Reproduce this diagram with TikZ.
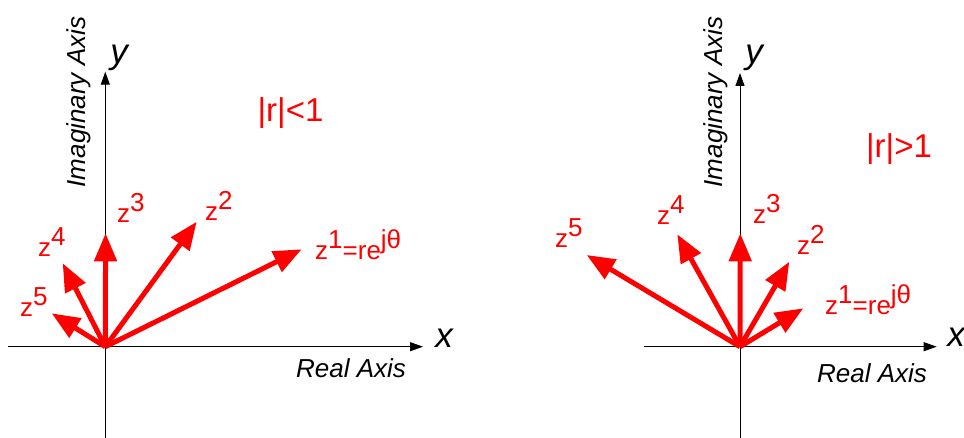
\documentclass[tikz,border=0pt]{standalone}
\usepackage{fontspec}
\setmainfont{Liberation Sans}
\usetikzlibrary{arrows.meta}
\newcommand\zsup[1]{\raisebox{0.45em}{#1}}
\begin{document}
\begin{tikzpicture}[x=1pt,y=-1pt,
  axis/.style={line width=1pt, -{Triangle[length=13pt,width=9pt]}},
  vec/.style={red, line width=5pt, -{Triangle[length=28pt,width=22pt]}},
  zlab/.style={red, font=\fontsize{26}{30}\selectfont, inner sep=0, anchor=base west},
  axlab/.style={font=\fontsize{26}{30}\selectfont\itshape, inner sep=0},
  xylab/.style={font=\fontsize{35}{40}\selectfont\itshape, inner sep=0},
  rlab/.style={red, font=\fontsize{33}{38}\selectfont, inner sep=0}]
\useasboundingbox (0,0) rectangle (964,438);
\fill[white] (0,0) rectangle (964,438);

% ---------- left panel ----------
\coordinate (O1) at (105.3,346.7);
\coordinate (xs1) at (8,346.7);
\coordinate (xe1) at (423,346.7);
\coordinate (ys1) at (105.3,438);
\coordinate (ye1) at (105.3,71.7);
\draw[axis] (xs1) -- (xe1);
\draw[axis] (ys1) -- (ye1);
\node[xylab] (xl1) at (444,338) {x};
\node[xylab] (yl1) at (119,58) {y};
\node[axlab, rotate=90] (im1) at (79,102) {Imaginary Axis};
\node[axlab] (re1) at (351,368) {Real Axis};
\node[rlab] (r1) at (290.5,113.5) {|r|<1};

\coordinate (a1) at (301.7,249.3);
\coordinate (a2) at (196.7,221.7);
\coordinate (a3) at (105.6,233.3);
\coordinate (a4) at (62.7,263.3);
\coordinate (a5) at (51.7,313.3);
\foreach \t in {a1,a2,a3,a4,a5} \draw[vec] (O1) -- (\t);

\node[zlab] (za1) at (315,260) {z\zsup{1}=re\zsup{jθ}};
\node[zlab] (za2) at (205,221) {z\zsup{2}};
\node[zlab] (za3) at (117,223) {z\zsup{3}};
\node[zlab] (za4) at (38,257) {z\zsup{4}};
\node[zlab] (za5) at (20,317) {z\zsup{5}};

% ---------- right panel ----------
\coordinate (O2) at (740,346.7);
\coordinate (xs2) at (644,346.7);
\coordinate (xe2) at (936.7,346.7);
\coordinate (ys2) at (740,438);
\coordinate (ye2) at (740,73);
\draw[axis] (xs2) -- (xe2);
\draw[axis] (ys2) -- (ye2);
\node[xylab] (xl2) at (956,337) {x};
\node[xylab] (yl2) at (754,58) {y};
\node[axlab, rotate=90] (im2) at (716,102) {Imaginary Axis};
\node[axlab] (re2) at (872,373) {Real Axis};
\node[rlab] (r2) at (899,149) {|r|>1};

\coordinate (b1) at (803.3,308.3);
\coordinate (b2) at (789.3,261.7);
\coordinate (b3) at (740.3,233.3);
\coordinate (b4) at (677.3,234.3);
\coordinate (b5) at (586.7,255);
\foreach \t in {b1,b2,b3,b4,b5} \draw[vec] (O2) -- (\t);

\node[zlab] (zb1) at (825,315) {z\zsup{1}=re\zsup{jθ}};
\node[zlab] (zb2) at (797,255) {z\zsup{2}};
\node[zlab] (zb3) at (753,224) {z\zsup{3}};
\node[zlab] (zb4) at (657,225) {z\zsup{4}};
\node[zlab] (zb5) at (555,248) {z\zsup{5}};
\end{tikzpicture}
\end{document}
